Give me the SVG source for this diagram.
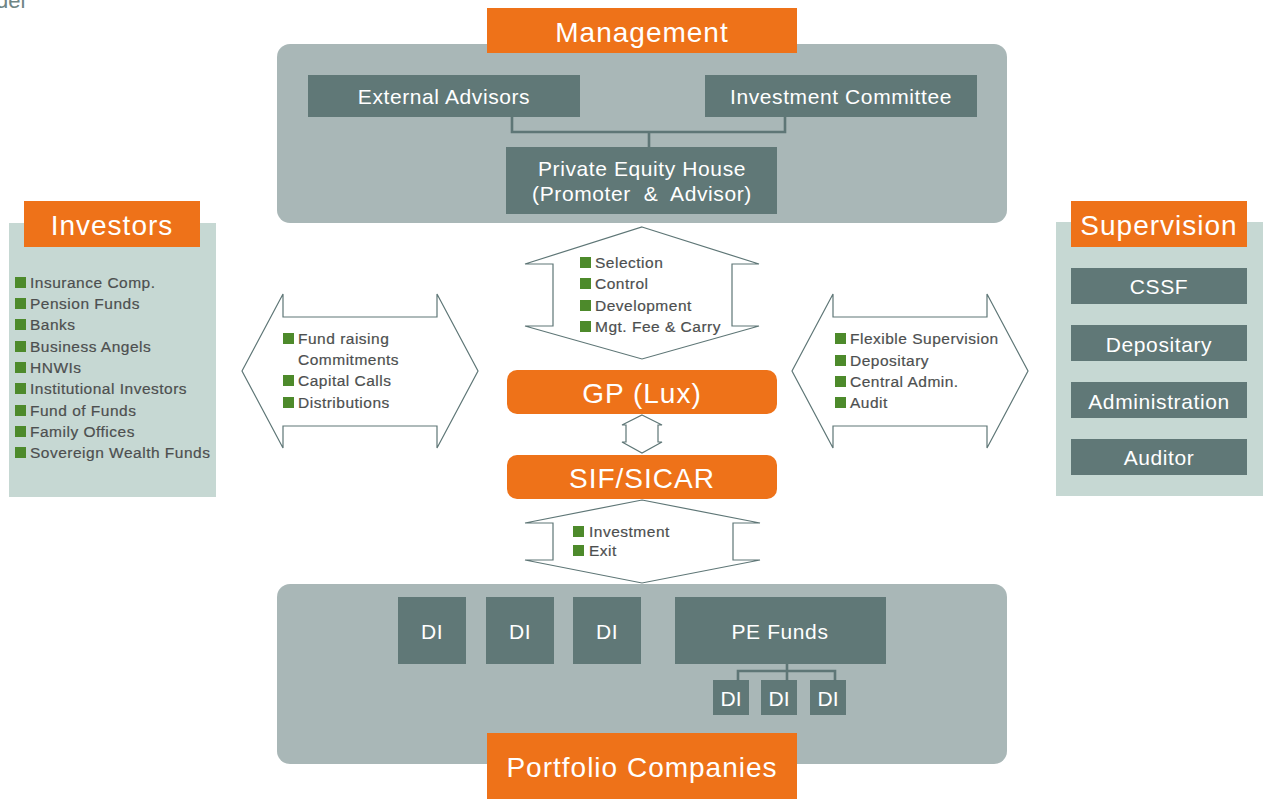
<svg xmlns="http://www.w3.org/2000/svg" width="1270" height="799" viewBox="0 0 1270 799">
<style>
.panel{fill:#a9b7b7}
.light{fill:#c6d8d3}
.orange{fill:#ee7219}
.box{fill:#607877}
.title{font-family:"Liberation Sans",Arial,sans-serif;font-size:28px;fill:#fff;text-anchor:middle;letter-spacing:1px}
.bt{font-family:"Liberation Sans",Arial,sans-serif;font-size:21px;fill:#fff;text-anchor:middle;letter-spacing:0.6px}
.li{font-family:"Liberation Sans",Arial,sans-serif;font-size:15.5px;fill:#4d4f4f;letter-spacing:0.5px;stroke:#4d4f4f;stroke-width:0.2px}
.sq{fill:#4d8a2b}
.arrow{fill:#fff;stroke:#5e7676;stroke-width:1.2;stroke-linejoin:miter}
.conn{fill:none;stroke:#5e7676;stroke-width:2.6}
</style>
<defs>
<rect id="sqr" width="11" height="11" class="sq"/>
</defs>
<text x="-4" y="8" font-family="Liberation Sans, Arial, sans-serif" font-size="22" fill="#6f8585">del</text>

<g id="management">
<rect x="277" y="44" width="730" height="179" rx="13" class="panel"/>
<rect x="487" y="8" width="310" height="45" class="orange"/>
<text x="642" y="42" class="title">Management</text>
</g>
<g id="external-advisors">
<rect x="308" y="75" width="272" height="42" class="box"/>
<text x="444" y="104" class="bt">External Advisors</text>
</g>
<g id="investment-committee">
<rect x="705" y="75" width="272" height="42" class="box"/>
<text x="841" y="104" class="bt">Investment Committee</text>
</g>
<g id="pe-house">
<rect x="506" y="147" width="271" height="67" class="box"/>
<text x="642" y="176" class="bt">Private Equity House</text>
<text x="642" y="201" class="bt" xml:space="preserve">(Promoter  &amp;  Advisor)</text>
</g>

<g id="investors">
<rect x="9" y="223" width="207" height="274" class="light"/>
<rect x="24" y="201" width="176" height="46" class="orange"/>
<text x="112" y="235" class="title">Investors</text>
<use href="#sqr" x="15" y="277"/><text x="30" y="288" class="li">Insurance Comp.</text>
<use href="#sqr" x="15" y="298"/><text x="30" y="309" class="li">Pension Funds</text>
<use href="#sqr" x="15" y="319"/><text x="30" y="330" class="li">Banks</text>
<use href="#sqr" x="15" y="341"/><text x="30" y="352" class="li">Business Angels</text>
<use href="#sqr" x="15" y="362"/><text x="30" y="373" class="li">HNWIs</text>
<use href="#sqr" x="15" y="383"/><text x="30" y="394" class="li">Institutional Investors</text>
<use href="#sqr" x="15" y="405"/><text x="30" y="416" class="li">Fund of Funds</text>
<use href="#sqr" x="15" y="426"/><text x="30" y="437" class="li">Family Offices</text>
<use href="#sqr" x="15" y="447"/><text x="30" y="458" class="li">Sovereign Wealth Funds</text>
</g>

<g id="supervision">
<rect x="1056" y="222" width="207" height="274" class="light"/>
<rect x="1071" y="201" width="176" height="46" class="orange"/>
<text x="1159" y="235" class="title">Supervision</text>
</g>
<g id="cssf"><rect x="1071" y="268" width="176" height="36" class="box"/><text x="1159" y="294" class="bt">CSSF</text></g>
<g id="depositary"><rect x="1071" y="325" width="176" height="36" class="box"/><text x="1159" y="352" class="bt">Depositary</text></g>
<g id="administration"><rect x="1071" y="382" width="176" height="36" class="box"/><text x="1159" y="409" class="bt">Administration</text></g>
<g id="auditor"><rect x="1071" y="439" width="176" height="36" class="box"/><text x="1159" y="465" class="bt">Auditor</text></g>

<g id="gp-lux">
<rect x="507" y="370" width="270" height="44" rx="10" class="orange"/>
<text x="642" y="403" class="title">GP (Lux)</text>
</g>
<g id="sif-sicar">
<rect x="507" y="455" width="270" height="44" rx="10" class="orange"/>
<text x="642" y="488" class="title">SIF/SICAR</text>
</g>

<g id="portfolio">
<rect x="277" y="584" width="730" height="180" rx="13" class="panel"/>
<rect x="487" y="733" width="310" height="66" class="orange"/>
<text x="642" y="777" class="title">Portfolio Companies</text>
</g>
<g id="di1"><rect x="398" y="597" width="68" height="67" class="box"/><text x="432" y="639" class="bt">DI</text></g>
<g id="di2"><rect x="486" y="597" width="68" height="67" class="box"/><text x="520" y="639" class="bt">DI</text></g>
<g id="di3"><rect x="573" y="597" width="68" height="67" class="box"/><text x="607" y="639" class="bt">DI</text></g>
<g id="pe-funds"><rect x="675" y="597" width="211" height="67" class="box"/><text x="780" y="639" class="bt">PE Funds</text></g>
<g id="di4"><rect x="713" y="680" width="36" height="35" class="box"/><text x="731" y="706" class="bt" style="letter-spacing:0">DI</text></g>
<g id="di5"><rect x="761" y="680" width="36" height="35" class="box"/><text x="779" y="706" class="bt" style="letter-spacing:0">DI</text></g>
<g id="di6"><rect x="810" y="680" width="36" height="35" class="box"/><text x="828" y="706" class="bt" style="letter-spacing:0">DI</text></g>

<g id="connectors">
<path class="conn" d="M512,117 V132 H785 V117 M649,132 V147"/>
<path class="conn" d="M787,664 V671 M738,681 V671 H835 V681 M787,671 V681"/>

<polygon class="arrow" points="642,227 759,264 732,264 732,326 759,326 642,359 525,326 553,326 553,264 525,264"/>
<use href="#sqr" x="580" y="257"/><text x="595" y="268" class="li">Selection</text>
<use href="#sqr" x="580" y="278"/><text x="595" y="289" class="li">Control</text>
<use href="#sqr" x="580" y="300"/><text x="595" y="311" class="li">Development</text>
<use href="#sqr" x="580" y="321"/><text x="595" y="332" class="li">Mgt. Fee &amp; Carry</text>

<polygon class="arrow" points="242,371 283,294 283,317 437,317 437,294 478,371 437,448 437,426 283,426 283,448"/>
<use href="#sqr" x="283" y="333"/><text x="298" y="344" class="li">Fund raising</text>
<text x="298" y="365" class="li">Commitments</text>
<use href="#sqr" x="283" y="375"/><text x="298" y="386" class="li">Capital Calls</text>
<use href="#sqr" x="283" y="397"/><text x="298" y="408" class="li">Distributions</text>

<polygon class="arrow" points="792,371 833,294 833,317 987,317 987,294 1028,371 987,448 987,426 833,426 833,448"/>
<use href="#sqr" x="835" y="333"/><text x="850" y="344" class="li">Flexible Supervision</text>
<use href="#sqr" x="835" y="355"/><text x="850" y="366" class="li">Depositary</text>
<use href="#sqr" x="835" y="376"/><text x="850" y="387" class="li">Central Admin.</text>
<use href="#sqr" x="835" y="397"/><text x="850" y="408" class="li">Audit</text>

<polygon class="arrow" points="642,415 662,425 658,425 658,442 662,442 642,453 622,442 626,442 626,425 622,425"/>

<polygon class="arrow" points="642,500 760,523 733,523 733,560 760,560 642,583 525,560 553,560 553,523 525,523"/>
<use href="#sqr" x="573" y="526"/><text x="589" y="537" class="li">Investment</text>
<use href="#sqr" x="573" y="545"/><text x="589" y="556" class="li">Exit</text>
</g>
</svg>
